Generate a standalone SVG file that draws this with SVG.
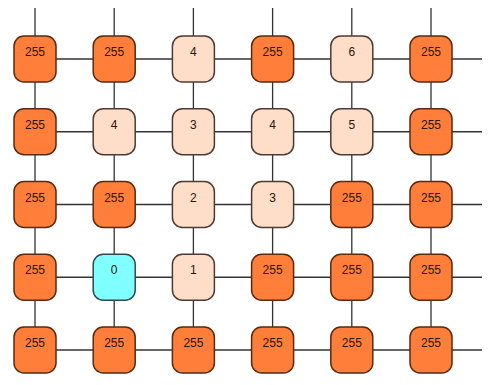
<svg xmlns="http://www.w3.org/2000/svg" width="500" height="385" viewBox="0 0 500 385">
<style>
.c{stroke:#333;stroke-width:1.3;fill:none}
.n rect{stroke-width:1.5;width:42px;height:46px}
.o{fill:#FF7F3A;stroke:#5a2a0e}
.l{fill:#FFDEC9;stroke:#4e3a30}
.q{fill:#80FFFF;stroke:#2e4a4a}
text{font-family:"Liberation Sans",Arial,sans-serif;font-size:12px;fill:#2a1408;text-anchor:middle}
</style>
<rect width="500" height="385" fill="#fff"/>
<g id="connectors" class="c">
<line x1="35" y1="59" x2="482" y2="59"/>
<line x1="35" y1="131.75" x2="482" y2="131.75"/>
<line x1="35" y1="204.5" x2="482" y2="204.5"/>
<line x1="35" y1="277.25" x2="482" y2="277.25"/>
<line x1="35" y1="350" x2="482" y2="350"/>
<line x1="35" y1="8" x2="35" y2="350"/>
<line x1="114.2" y1="8" x2="114.2" y2="350"/>
<line x1="193.4" y1="8" x2="193.4" y2="350"/>
<line x1="272.6" y1="8" x2="272.6" y2="350"/>
<line x1="351.8" y1="8" x2="351.8" y2="350"/>
<line x1="431" y1="8" x2="431" y2="350"/>
</g>
<g class="n">
<g id="n00"><rect class="o" x="14" y="36" width="42" height="46" rx="10"/><text x="35" y="56">255</text></g>
<g id="n01"><rect class="o" x="93.2" y="36" width="42" height="46" rx="10"/><text x="114.2" y="56">255</text></g>
<g id="n02"><rect class="l" x="172.4" y="36" width="42" height="46" rx="10"/><text x="193.4" y="56">4</text></g>
<g id="n03"><rect class="o" x="251.6" y="36" width="42" height="46" rx="10"/><text x="272.6" y="56">255</text></g>
<g id="n04"><rect class="l" x="330.8" y="36" width="42" height="46" rx="10"/><text x="351.8" y="56">6</text></g>
<g id="n05"><rect class="o" x="410" y="36" width="42" height="46" rx="10"/><text x="431" y="56">255</text></g>

<g id="n10"><rect class="o" x="14" y="108.75" width="42" height="46" rx="10"/><text x="35" y="128.75">255</text></g>
<g id="n11"><rect class="l" x="93.2" y="108.75" width="42" height="46" rx="10"/><text x="114.2" y="128.75">4</text></g>
<g id="n12"><rect class="l" x="172.4" y="108.75" width="42" height="46" rx="10"/><text x="193.4" y="128.75">3</text></g>
<g id="n13"><rect class="l" x="251.6" y="108.75" width="42" height="46" rx="10"/><text x="272.6" y="128.75">4</text></g>
<g id="n14"><rect class="l" x="330.8" y="108.75" width="42" height="46" rx="10"/><text x="351.8" y="128.75">5</text></g>
<g id="n15"><rect class="o" x="410" y="108.75" width="42" height="46" rx="10"/><text x="431" y="128.75">255</text></g>

<g id="n20"><rect class="o" x="14" y="181.5" width="42" height="46" rx="10"/><text x="35" y="201.5">255</text></g>
<g id="n21"><rect class="o" x="93.2" y="181.5" width="42" height="46" rx="10"/><text x="114.2" y="201.5">255</text></g>
<g id="n22"><rect class="l" x="172.4" y="181.5" width="42" height="46" rx="10"/><text x="193.4" y="201.5">2</text></g>
<g id="n23"><rect class="l" x="251.6" y="181.5" width="42" height="46" rx="10"/><text x="272.6" y="201.5">3</text></g>
<g id="n24"><rect class="o" x="330.8" y="181.5" width="42" height="46" rx="10"/><text x="351.8" y="201.5">255</text></g>
<g id="n25"><rect class="o" x="410" y="181.5" width="42" height="46" rx="10"/><text x="431" y="201.5">255</text></g>

<g id="n30"><rect class="o" x="14" y="254.25" width="42" height="46" rx="10"/><text x="35" y="274.25">255</text></g>
<g id="n31"><rect class="q" x="93.2" y="254.25" width="42" height="46" rx="10"/><text x="114.2" y="274.25">0</text></g>
<g id="n32"><rect class="l" x="172.4" y="254.25" width="42" height="46" rx="10"/><text x="193.4" y="274.25">1</text></g>
<g id="n33"><rect class="o" x="251.6" y="254.25" width="42" height="46" rx="10"/><text x="272.6" y="274.25">255</text></g>
<g id="n34"><rect class="o" x="330.8" y="254.25" width="42" height="46" rx="10"/><text x="351.8" y="274.25">255</text></g>
<g id="n35"><rect class="o" x="410" y="254.25" width="42" height="46" rx="10"/><text x="431" y="274.25">255</text></g>

<g id="n40"><rect class="o" x="14" y="327" width="42" height="46" rx="10"/><text x="35" y="347">255</text></g>
<g id="n41"><rect class="o" x="93.2" y="327" width="42" height="46" rx="10"/><text x="114.2" y="347">255</text></g>
<g id="n42"><rect class="o" x="172.4" y="327" width="42" height="46" rx="10"/><text x="193.4" y="347">255</text></g>
<g id="n43"><rect class="o" x="251.6" y="327" width="42" height="46" rx="10"/><text x="272.6" y="347">255</text></g>
<g id="n44"><rect class="o" x="330.8" y="327" width="42" height="46" rx="10"/><text x="351.8" y="347">255</text></g>
<g id="n45"><rect class="o" x="410" y="327" width="42" height="46" rx="10"/><text x="431" y="347">255</text></g>
</g>
</svg>
